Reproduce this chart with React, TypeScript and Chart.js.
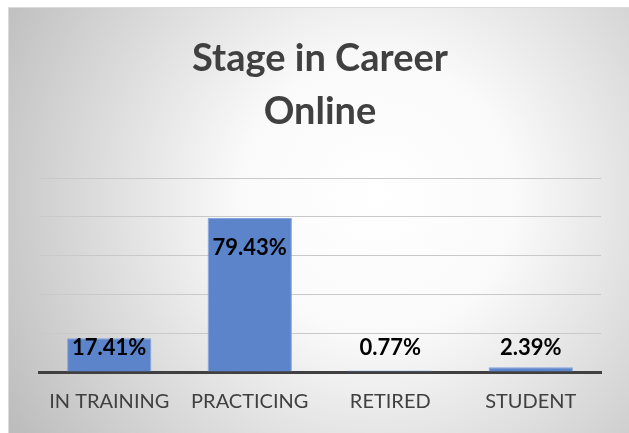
import React, { useEffect, useRef } from "react";
import { Chart, registerables } from "chart.js";

Chart.register(...registerables);

const categories = ["IN TRAINING", "PRACTICING", "RETIRED", "STUDENT"];
const values = [17.41, 79.43, 0.77, 2.39];
const valueLabels = ["17.41%", "79.43%", "0.77%", "2.39%"];
const titleLines = ["Stage in Career", "Online"];

const bgPlugin = {
  id: "bgPlugin",
  beforeDraw(chart: any) {
    const { ctx, width, height } = chart;
    ctx.save();
    const g = ctx.createRadialGradient(370, 190, 0, 370, 190, 430);
    g.addColorStop(0, "#ffffff");
    g.addColorStop(0.32, "#fafafa");
    g.addColorStop(1, "#bdbdbd");
    ctx.fillStyle = g;
    ctx.fillRect(0, 0, width, height);
    ctx.strokeStyle = "#dadada";
    ctx.lineWidth = 1;
    ctx.beginPath();
    ctx.moveTo(0.5, height);
    ctx.lineTo(0.5, 0.5);
    ctx.lineTo(width, 0.5);
    ctx.stroke();
    ctx.restore();
  },
};

const labelPlugin = {
  id: "labelPlugin",
  afterDatasetsDraw(chart: any) {
    const { ctx } = chart;
    const meta = chart.getDatasetMeta(0);
    const zeroY = chart.scales.y.getPixelForValue(0);
    ctx.save();
    ctx.font = "bold 22px Lato";
    ctx.fillStyle = "#000000";
    ctx.textAlign = "center";
    ctx.textBaseline = "middle";
    meta.data.forEach((bar: any, i: number) => {
      const y = Math.min(bar.y + 30, zeroY - 24);
      ctx.fillText(valueLabels[i], bar.x, y);
    });
    ctx.restore();
  },
};

export default function App() {
  const ref = useRef<HTMLCanvasElement>(null);
  useEffect(() => {
    if (!ref.current) return;
    const chart = new Chart(ref.current, {
      type: "bar",
      data: {
        labels: categories,
        datasets: [
          {
            data: values,
            backgroundColor: "#5B84CB",
            borderColor: "#86A3DA",
            borderWidth: 1,
            barPercentage: 0.6,
            categoryPercentage: 1.0,
          },
        ],
      },
      options: {
        responsive: false,
        animation: false,
        layout: { padding: { left: 31, right: 28, top: 0, bottom: 1 } },
        plugins: {
          legend: { display: false },
          tooltip: { enabled: false },
          title: {
            display: true,
            text: titleLines,
            color: "#404040",
            font: { family: "Lato", size: 38, weight: "bold", lineHeight: "53px" },
            padding: { top: 25, bottom: 40 },
          },
        },
        scales: {
          x: {
            grid: { display: false, drawTicks: false },
            border: { display: true, color: "#404040", width: 3 },
            ticks: {
              color: "#404040",
              font: { family: "Lato", size: 20 },
              padding: 18,
              maxRotation: 0,
              autoSkip: false,
            },
          },
          y: {
            min: 0,
            max: 100,
            ticks: { display: false, stepSize: 20 },
            grid: {
              drawTicks: false,
              color: (c: any) => (c.tick && c.tick.value === 0 ? "rgba(0,0,0,0)" : "#c9c9c9"),
              lineWidth: 1,
            },
            border: { display: false },
          },
        },
      },
      plugins: [bgPlugin, labelPlugin],
    });
    return () => chart.destroy();
  }, []);
  return (
    <div style={{ position: "absolute", left: 8, top: 7 }}>
      <canvas ref={ref} width={621} height={426} style={{ display: "block" }} />
    </div>
  );
}
